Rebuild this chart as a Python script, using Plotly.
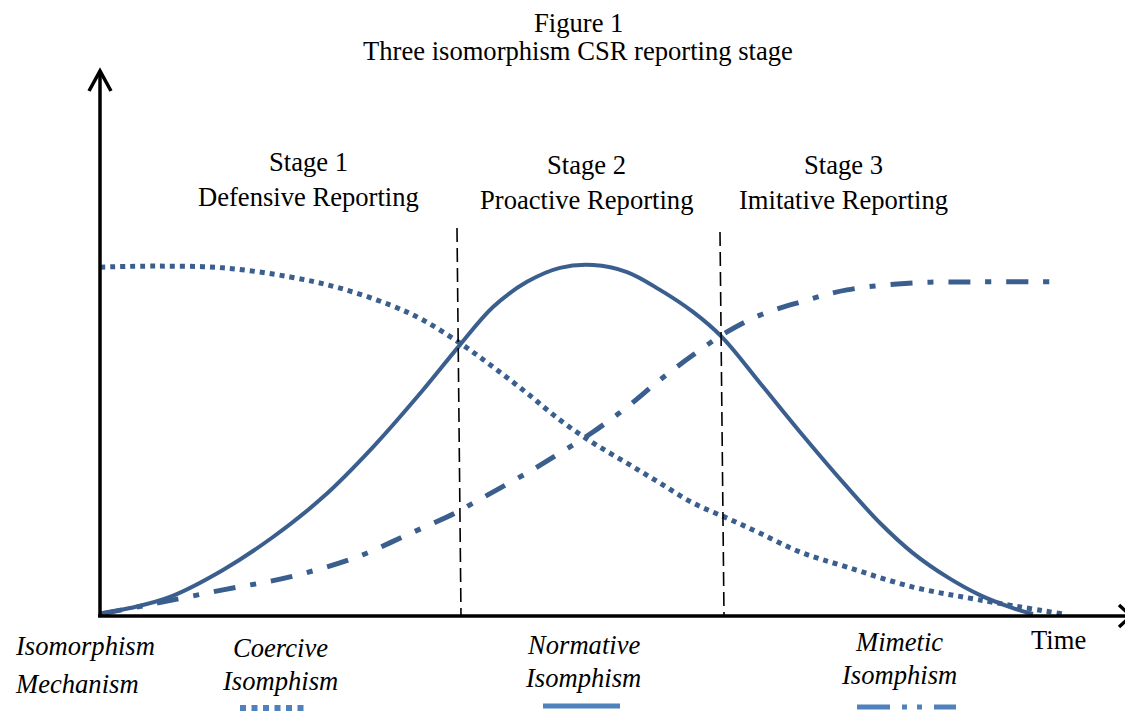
import plotly.graph_objects as go

# ---------------- data (time units, relative level) ----------------
normative_t = [0.0, 0.31, 0.71, 1.24, 1.74, 2.24, 2.74, 3.24, 3.61, 3.94, 4.28, 4.61, 4.94,
               5.28, 5.61, 5.94, 6.23, 6.61, 7.01, 7.48, 7.81, 8.14, 8.48, 8.81, 9.14, 9.34]
normative_v = [0.0, 0.017, 0.049, 0.126, 0.22, 0.334, 0.477, 0.64, 0.769, 0.877, 0.949, 0.989, 0.997,
               0.977, 0.926, 0.863, 0.791, 0.66, 0.52, 0.363, 0.26, 0.174, 0.106, 0.054, 0.017, 0.0]

coercive_t = [0.01, 0.58, 1.24, 1.91, 2.41, 2.91, 3.24, 3.61, 3.94, 4.28, 4.61, 4.94,
              5.28, 5.61, 5.94, 6.28, 6.61, 7.01, 7.48, 8.14, 8.81, 9.64]
coercive_v = [0.991, 0.994, 0.989, 0.963, 0.931, 0.883, 0.84, 0.774, 0.706, 0.631, 0.554, 0.489,
              0.431, 0.374, 0.317, 0.274, 0.231, 0.177, 0.134, 0.077, 0.04, 0.0]

mimetic_t = [0.01, 0.58, 1.24, 1.91, 2.58, 3.08, 3.58, 3.74, 4.28, 4.61, 4.94, 5.28,
             5.61, 5.94, 6.28, 6.61, 7.01, 7.48, 8.14, 8.81, 9.54]
mimetic_v = [0.0, 0.031, 0.069, 0.106, 0.163, 0.226, 0.291, 0.317, 0.403, 0.46, 0.52, 0.591,
             0.669, 0.74, 0.806, 0.854, 0.891, 0.926, 0.946, 0.949, 0.949]

stage_titles = ["Stage 1", "Stage 2", "Stage 3"]
stage_names = ["Defensive Reporting", "Proactive Reporting", "Imitative Reporting"]
mechanisms = ["Coercive<br>Isomphism", "Normative<br>Isomphism", "Mimetic<br>Isomphism"]

# ---------------- layout helpers (screen pixel -> axis units) ----------------
WIN_W, WIN_H = 1133, 712
PAD = 8                   # default page margin around the plot div
W, H = WIN_W - PAD, WIN_H - PAD
OX, OY = 99, 614          # screen pixel position of the origin
SX, SY = 100.0, 350.0     # pixels per unit


def X(px):
    return (px - OX) / SX


def Y(py):
    return (OY - py) / SY


CURVE = "#3A5F8E"
KEY = "#4F81BD"
FONT = "Liberation Serif"
FS = 26.6

fig = go.Figure()

fig.add_trace(go.Scatter(x=coercive_t, y=coercive_v, mode="lines", line_shape="spline",
                         line=dict(color=CURVE, width=5, dash="5px,5px"), name="Coercive"))
fig.add_trace(go.Scatter(x=mimetic_t, y=mimetic_v, mode="lines", line_shape="spline",
                         line=dict(color=CURVE, width=5, dash="22px,15px,6px,15px"), name="Mimetic"))
fig.add_trace(go.Scatter(x=normative_t, y=normative_v, mode="lines", line_shape="spline",
                         line=dict(color=CURVE, width=4), name="Normative"))

shapes = []
# axes
shapes.append(dict(type="line", x0=X(100), y0=Y(616), x1=X(100), y1=Y(72),
                   line=dict(color="black", width=3.5)))
shapes.append(dict(type="line", x0=X(98), y0=Y(616), x1=X(1129), y1=Y(616),
                   line=dict(color="black", width=3.5)))
shapes.append(dict(type="path",
                   path=f"M {X(89)},{Y(91)} L {X(100)},{Y(71)} L {X(111)},{Y(91)}",
                   line=dict(color="black", width=3.5)))
shapes.append(dict(type="path",
                   path=f"M {X(1119)},{Y(605)} L {X(1131)},{Y(616)} L {X(1119)},{Y(627)}",
                   line=dict(color="black", width=3.5)))
# stage boundaries
shapes.append(dict(type="line", x0=X(457), y0=Y(228), x1=X(461), y1=Y(616),
                   line=dict(color="black", width=1.6, dash="14px,6px")))
shapes.append(dict(type="line", x0=X(720), y0=Y(232), x1=X(724), y1=Y(616),
                   line=dict(color="black", width=1.6, dash="14px,6px")))
# legend keys
shapes.append(dict(type="line", x0=X(240), y0=Y(708), x1=X(307), y1=Y(708),
                   line=dict(color=KEY, width=6, dash="6px,5.5px")))
shapes.append(dict(type="line", x0=X(543), y0=Y(706), x1=X(620), y1=Y(706),
                   line=dict(color=KEY, width=5)))
shapes.append(dict(type="line", x0=X(857), y0=Y(707), x1=X(956), y1=Y(707),
                   line=dict(color=KEY, width=5, dash="33px,12px,5px,10px,5px,12px,30px")))

ann = []


def text(t, px, py, xanchor="center"):
    ann.append(dict(text=t, x=X(px), y=Y(py), xref="x", yref="y", showarrow=False,
                    xanchor=xanchor, yanchor="middle",
                    font=dict(family=FONT, size=FS, color="black")))


text("Figure 1", 578, 23)
text("Three isomorphism CSR reporting stage", 578, 51)

stage_cx = [308, 586, 843]
for t, n, cx, cy in zip(stage_titles, stage_names, stage_cx, [162, 165, 165]):
    text(t, cx, cy)
    text(n, cx, cy + 35)

text("<i>Isomorphism</i>", 13, 646, xanchor="left")
text("<i>Mechanism</i>", 13, 684, xanchor="left")
for m, cx, cy in zip(mechanisms, [280, 583, 899], [648, 645, 642]):
    l1, l2 = m.split("<br>")
    text(f"<i>{l1}</i>", cx, cy)
    text(f"<i>{l2}</i>", cx, cy + 33)
text("Time", 1058, 640)

fig.update_layout(
    width=W, height=H,
    margin=dict(l=0, r=0, t=0, b=0),
    paper_bgcolor="white", plot_bgcolor="white",
    showlegend=False,
    xaxis=dict(range=[X(PAD), X(WIN_W)], visible=False, fixedrange=True),
    yaxis=dict(range=[Y(WIN_H), Y(PAD)], visible=False, fixedrange=True),
    shapes=shapes, annotations=ann,
)

fig.write_html("out.html")
